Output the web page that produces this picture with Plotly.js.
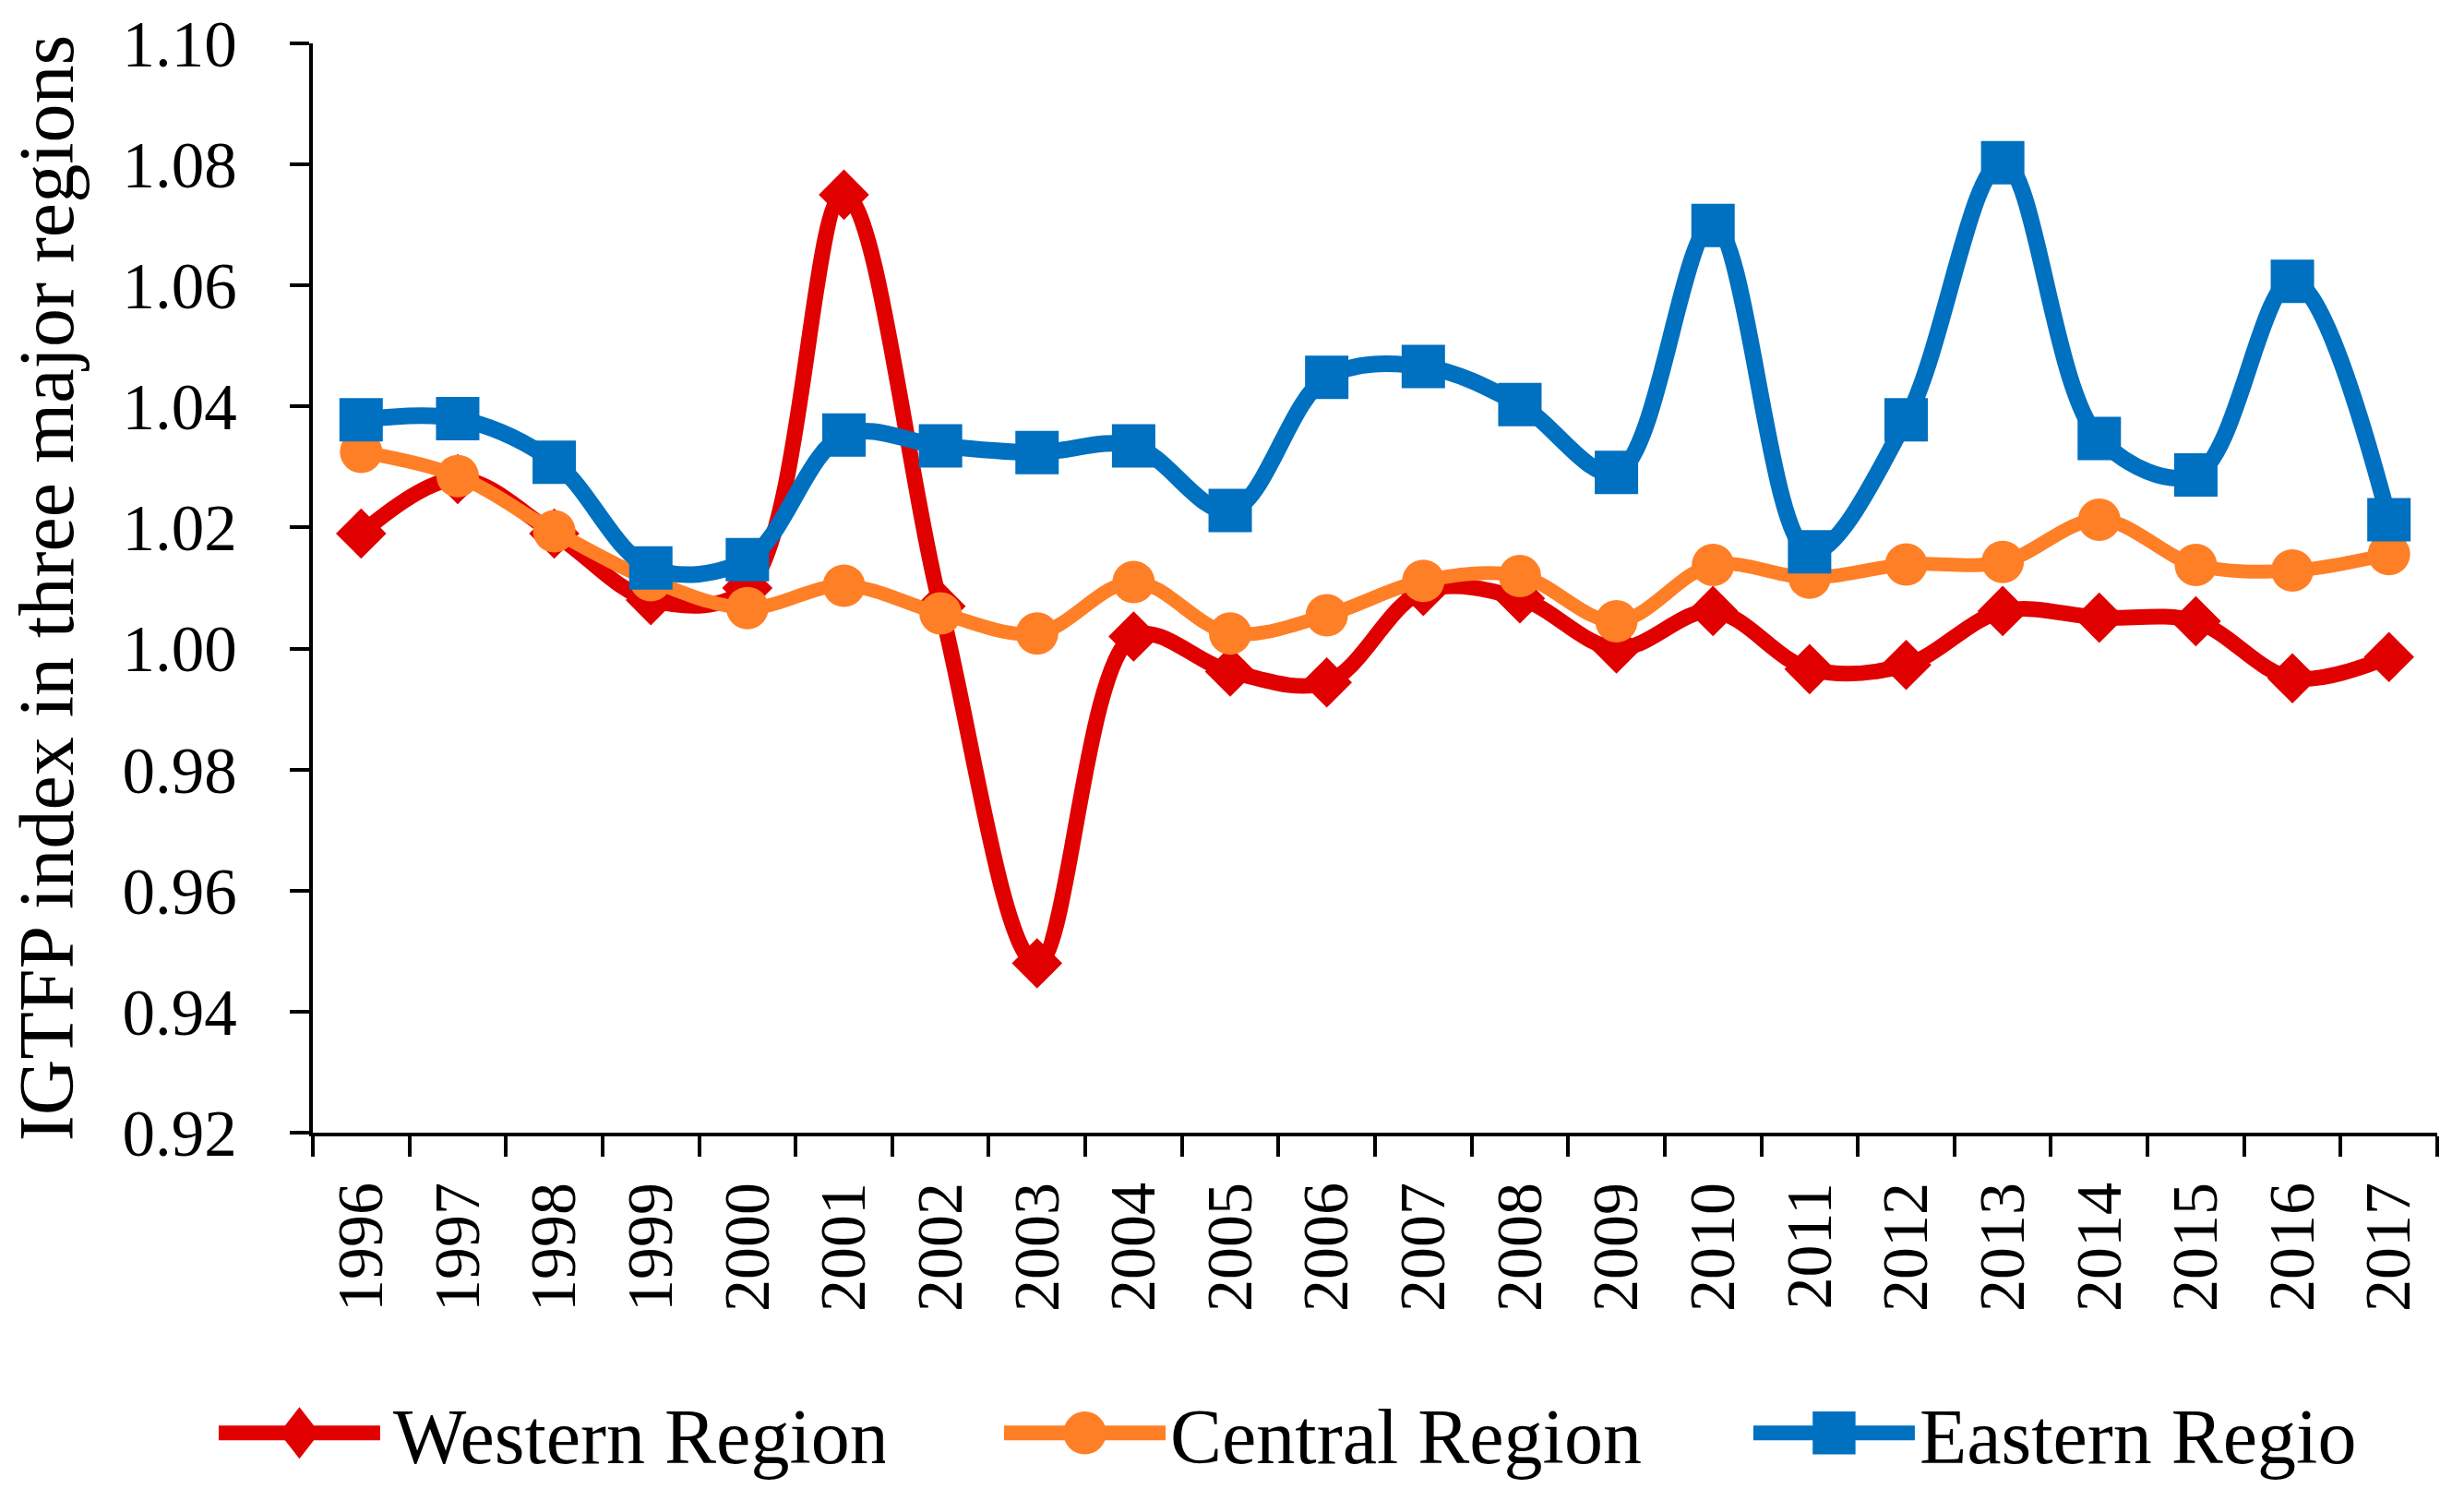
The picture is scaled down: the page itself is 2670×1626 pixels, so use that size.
<!DOCTYPE html>
<html>
<head>
<meta charset="utf-8">
<script src="https://cdn.plot.ly/plotly-3.0.1.min.js"></script>
<style>
  html, body { margin: 0; padding: 0; background: #ffffff; }
  #chart { width: 2670px; height: 1626px; }
</style>
</head>
<body>
<div id="chart"></div>
<script>
const years = ['1996','1997','1998','1999','2000','2001','2002','2003','2004','2005','2006',
               '2007','2008','2009','2010','2011','2012','2013','2014','2015','2016','2017'];

const western = [1.0190, 1.0280, 1.0190, 1.0080, 1.0100, 1.0750, 1.0070, 0.9480, 1.0020, 0.9962, 0.9944,
                 1.0095, 1.0083, 1.0000, 1.0062, 0.9966, 0.9973, 1.0062, 1.0051, 1.0045, 0.9951, 0.9986];

const central = [1.0325, 1.0285, 1.0194, 1.0113, 1.0067, 1.0104, 1.0058, 1.0025, 1.0110, 1.0025, 1.0055,
                 1.0112, 1.0120, 1.0045, 1.0138, 1.0117, 1.0139, 1.0143, 1.0213, 1.0138, 1.0129, 1.0156];

const eastern = [1.0378, 1.0380, 1.0308, 1.0133, 1.0147, 1.0353, 1.0335, 1.0324, 1.0335, 1.0228, 1.0448,
                 1.0466, 1.0403, 1.0291, 1.0699, 1.0160, 1.0378, 1.0803, 1.0347, 1.0287, 1.0607, 1.0213];

const seriesNames = ['Western Region', 'Central Region', 'Eastern Regio'];
const yTickVals = [0.92, 0.94, 0.96, 0.98, 1.00, 1.02, 1.04, 1.06, 1.08, 1.10];
const yTickText = ['0.92', '0.94', '0.96', '0.98', '1.00', '1.02', '1.04', '1.06', '1.08', '1.10'];
const yTitle = 'IGTFP index in three major regions';

const FONT = 'Liberation Serif, Times New Roman, serif';
const RED = '#E00000', ORANGE = '#FF7F27', BLUE = '#0070C0';

const traces = [
  { x: years, y: western, name: seriesNames[0], type: 'scatter', mode: 'lines+markers',
    line: { color: RED, width: 17, shape: 'spline', smoothing: 1 },
    marker: { symbol: 'diamond', size: 42, color: RED }, legend: 'legend' },
  { x: years, y: central, name: seriesNames[1], type: 'scatter', mode: 'lines+markers',
    line: { color: ORANGE, width: 15, shape: 'spline', smoothing: 1 },
    marker: { symbol: 'circle', size: 46, color: ORANGE }, legend: 'legend2' },
  { x: years, y: eastern, name: seriesNames[2], type: 'scatter', mode: 'lines+markers',
    line: { color: BLUE, width: 18, shape: 'spline', smoothing: 1 },
    marker: { symbol: 'square', size: 47, color: BLUE }, legend: 'legend3' }
];

const legendCommon = {
  orientation: 'h', yanchor: 'middle', xanchor: 'left', y: -0.276,
  font: { family: FONT, size: 84, color: '#000' },
  bgcolor: 'rgba(0,0,0,0)', borderwidth: 0, itemwidth: 175, itemclick: false, itemdoubleclick: false
};

const layout = {
  width: 2670, height: 1626,
  margin: { l: 339, r: 29, t: 47, b: 383, pad: 0 },
  paper_bgcolor: '#ffffff', plot_bgcolor: '#ffffff',
  font: { family: FONT, color: '#000' },
  showlegend: true,
  legend:  Object.assign({}, legendCommon, { x: -0.0465 }),
  legend2: Object.assign({}, legendCommon, { x: 0.3232 }),
  legend3: Object.assign({}, legendCommon, { x: 0.6759 }),
  xaxis: {
    type: 'category', range: [-0.5, 21.5],
    showline: true, linecolor: '#000', linewidth: 4,
    ticks: 'outside', tickson: 'boundaries', ticklen: 22, tickwidth: 4, tickcolor: '#000',
    tickangle: -90, tickfont: { family: FONT, size: 70, color: '#000' },
    ticklabelstandoff: 22,
    showgrid: false, zeroline: false, automargin: false, fixedrange: true
  },
  yaxis: {
    range: [0.92, 1.10], tickvals: yTickVals, ticktext: yTickText,
    showline: true, linecolor: '#000', linewidth: 4,
    ticks: 'outside', ticklen: 21, tickwidth: 4, tickcolor: '#000',
    tickfont: { family: FONT, size: 71, color: '#000' },
    ticklabelstandoff: 43,
    showgrid: false, zeroline: false, automargin: false, fixedrange: true,
    title: { text: yTitle, font: { family: FONT, size: 84, color: '#000' }, standoff: 26 }
  }
};

Plotly.newPlot('chart', traces, layout, { staticPlot: true, displayModeBar: false }).then(function (gd) {
  // enlarge legend keys (Plotly caps legend symbol sizes) to match the reference
  gd.querySelectorAll('.legendlines path').forEach(function (p) {
    p.style.strokeWidth = '16px';
  });
  gd.querySelectorAll('.legendpoints path.scatterpts').forEach(function (p) {
    const base = p.getAttribute('transform') || '';
    const fill = (p.style.fill || '').replace(/\s/g, '');
    const isDiamond = fill === 'rgb(224,0,0)';
    p.setAttribute('transform', base + (isDiamond ? ' scale(2.1,2.7)' : ' scale(2.9)'));
  });
  gd.querySelectorAll('text.legendtext').forEach(function (t) {
    const x = parseFloat(t.getAttribute('x')) || 0;
    t.setAttribute('x', x + 9);
  });
});
</script>
</body>
</html>
